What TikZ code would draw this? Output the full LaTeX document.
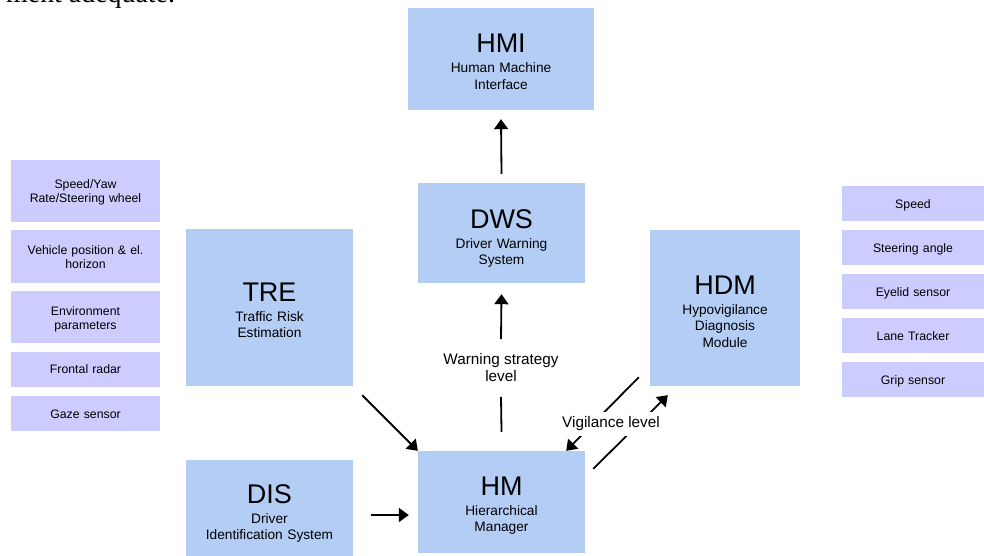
\documentclass[tikz,border=0pt]{standalone}
\usepackage{fontspec}
\setmainfont{Liberation Sans}
\newfontfamily\serifbody{Liberation Serif}
\usetikzlibrary{arrows.meta}
\definecolor{bigblue}{RGB}{179,205,245}
\definecolor{lav}{RGB}{204,204,255}
% module title: large acronym followed by the full name
\newcommand\boxtitle[2]{{\fontsize{27}{27}\selectfont #1}\\[3.5pt]#2}
\begin{document}
\begin{tikzpicture}[x=1pt,y=-1pt,
  module/.style={fill=bigblue, draw=none, inner sep=0pt},
  signal/.style={fill=lav, draw=none, inner sep=0pt},
  lsig/.style={signal, minimum width=149pt},
  rsig/.style={signal, minimum width=142pt, minimum height=35pt},
  sigtext/.style={anchor=base, text width=149pt, align=center, inner sep=0pt,
    font=\fontsize{12.3}{13.8}\selectfont},
  modtitle/.style={anchor=base, text width=170pt, align=center, inner sep=0pt,
    font=\fontsize{13.7}{16.5}\selectfont},
  note/.style={align=center, inner xsep=2pt, font=\fontsize{15.3}{17}\selectfont},
  link/.style={line width=1.8pt},
  flow/.style={link, -{Triangle[length=10pt,width=14pt]}}
]
\useasboundingbox (0,0) rectangle (984,556);

% running text of the page above the figure
\node[anchor=base west, inner sep=0pt, font=\serifbody\fontsize{27.9}{30}\selectfont]
  (prev) at (6,2.5) {ment adequate.};

% main modules
\node[module, minimum width=186pt, minimum height=102pt] (hmi) at (501,59) {};
\node[module, minimum width=167pt, minimum height=100pt] (dws) at (501.5,233) {};
\node[module, minimum width=167pt, minimum height=157pt] (tre) at (269.5,307.5) {};
\node[module, minimum width=167pt, minimum height=96pt]  (dis) at (269.5,508) {};
\node[module, minimum width=167pt, minimum height=102pt] (hm)  at (501.5,502) {};
\node[module, minimum width=150pt, minimum height=156pt] (hdm) at (725,308) {};

\node[modtitle] (hmi-t) at (501,53)    {\boxtitle{HMI}{Human Machine\\Interface}};
\node[modtitle] (dws-t) at (501.5,228) {\boxtitle{DWS}{Driver Warning\\System}};
\node[modtitle] (tre-t) at (269.5,301) {\boxtitle{TRE}{Traffic Risk\\Estimation}};
\node[modtitle] (dis-t) at (269.5,503) {\boxtitle{DIS}{Driver\\Identification System}};
\node[modtitle] (hm-t)  at (501.5,495) {\boxtitle{HM}{Hierarchical\\Manager}};
\node[modtitle] (hdm-t) at (725,294)   {\boxtitle{HDM}{Hypovigilance\\Diagnosis\\Module}};

% vehicle / environment signals
\node[lsig, minimum height=62pt] (l1) at (85.5,191)   {};
\node[lsig, minimum height=53pt] (l2) at (85.5,256.5) {};
\node[lsig, minimum height=52pt] (l3) at (85.5,317)   {};
\node[lsig, minimum height=35pt] (l4) at (85.5,369.5) {};
\node[lsig, minimum height=35pt] (l5) at (85.5,413.5) {};
\node[sigtext] (l1-t) at (85.5,189)   {Speed/Yaw\\Rate/Steering wheel};
\node[sigtext] (l2-t) at (85.5,254.3) {Vehicle position \& el.\\horizon};
\node[sigtext] (l3-t) at (85.5,315.5) {Environment\\parameters};
\node[sigtext] (l4-t) at (85.5,373.5) {Frontal radar};
\node[sigtext] (l5-t) at (85.5,418)   {Gaze sensor};

% driver state signals
\node[rsig] (r1) at (913,203.5) {};
\node[rsig] (r2) at (913,247.5) {};
\node[rsig] (r3) at (913,291.5) {};
\node[rsig] (r4) at (913,335.5) {};
\node[rsig] (r5) at (913,379.5) {};
\node[sigtext] (r1-t) at (913,208.3) {Speed};
\node[sigtext] (r2-t) at (913,252.3) {Steering angle};
\node[sigtext] (r3-t) at (913,296.3) {Eyelid sensor};
\node[sigtext] (r4-t) at (913,340.3) {Lane Tracker};
\node[sigtext] (r5-t) at (913,384.3) {Grip sensor};

% connections
\draw[flow] ([shift={(0,-9)}]dws.north) -- ([shift={(0,9)}]hmi.south);

\node[note, inner ysep=14.5pt] (wsl) at (501,368) {Warning strategy\\level};
\draw[link] ([shift={(0,-19)}]hm.north) -- (wsl.south);
\draw[flow] (wsl.north) -- ([shift={(0,11)}]dws.south);

\draw[flow] ([shift={(9,9)}]tre.south east) -- (hm.north west);
\draw[flow] ([shift={(18,7)}]dis.east) -- ([shift={(-9,13)}]hm.west);

\draw[flow] ([shift={(-11,-9)}]hdm.south west) -- ([shift={(-19,0)}]hm.north east);
\draw[flow] ([shift={(8,18)}]hm.north east) -- ([shift={(18,9)}]hdm.south west);
\node[note, fill=white, inner ysep=4.5pt] (vig) at (611,424) {Vigilance level};
\end{tikzpicture}
\end{document}
